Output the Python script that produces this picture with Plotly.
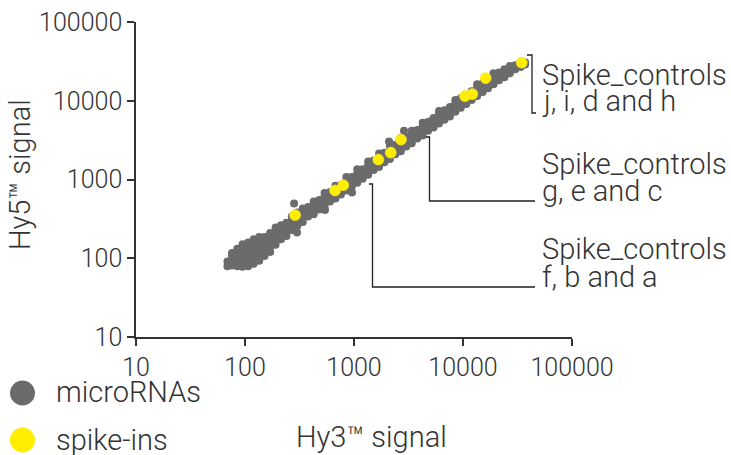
import plotly.graph_objects as go

# ---- data ----
micro_x = [
    69, 69,
    76, 76, 76, 76,
    85, 85, 85, 85, 85,
    95, 95, 95, 95, 95, 95,
    107, 107, 107, 107, 107, 107,
    120, 120, 120, 120, 120, 120,
    135, 135, 135, 135, 135, 135,
    151, 151, 151, 151, 151,
    170, 170, 170, 170, 170,
    191, 191, 191, 191, 191,
    214, 214, 214, 214,
    240, 240, 240, 240,
    269, 269, 269, 269,
    302, 302, 302, 302,
    339, 339, 339, 339,
    380, 380, 380,
    427, 427, 427, 427,
    479, 479, 479,
    537, 537, 537, 537,
    603, 603, 603,
    676, 676, 676, 676,
    759, 759, 759,
    851, 851, 851, 851,
    955, 955, 955,
    1072, 1072, 1072, 1072,
    1202, 1202, 1202,
    1349, 1349, 1349, 1349,
    1514, 1514, 1514,
    1698, 1698, 1698, 1698,
    1905, 1905, 1905,
    2138, 2138, 2138, 2138,
    2399, 2399, 2399,
    2692, 2692, 2692, 2692,
    3020, 3020, 3020,
    3388, 3388, 3388, 3388,
    3802, 3802, 3802,
    4266, 4266, 4266, 4266,
    4786, 4786, 4786,
    5370, 5370, 5370,
    6026, 6026, 6026, 6026,
    6761, 6761, 6761,
    7586, 7586, 7586,
    8511, 8511, 8511, 8511,
    9550, 9550, 9550,
    10720, 10720, 10720,
    12020, 12020, 12020,
    13490, 13490, 13490, 13490,
    15140, 15140, 15140,
    16980, 16980, 16980,
    19050, 19050, 19050, 19050,
    21380, 21380, 21380,
    23990, 23990, 23990,
    26920, 26920, 26920,
    30200, 30200,
    33880, 33880,
    37150, 37150,
    282, 300, 542, 959, 2094, 2875, 4980,
]
micro_y = [
    79, 91,
    81, 93, 107, 117,
    79, 91, 105, 120, 132,
    78, 89, 102, 117, 135, 151,
    79, 91, 105, 120, 138, 158,
    85, 98, 112, 129, 148, 174,
    93, 107, 123, 141, 162, 186,
    107, 123, 141, 162, 186,
    120, 138, 158, 182, 209,
    148, 170, 195, 224, 245,
    174, 200, 229, 263,
    191, 214, 245, 282,
    229, 263, 302, 339,
    257, 295, 339, 380,
    288, 331, 380, 427,
    339, 389, 447,
    363, 417, 479, 525,
    417, 479, 550,
    457, 525, 603, 676,
    525, 603, 692,
    575, 661, 759, 832,
    646, 741, 851,
    724, 832, 955, 1072,
    813, 933, 1072,
    912, 1047, 1202, 1349,
    1023, 1175, 1349,
    1148, 1318, 1514, 1698,
    1318, 1514, 1738,
    1445, 1660, 1905, 2138,
    1660, 1905, 2188,
    1820, 2089, 2399, 2692,
    2089, 2399, 2754,
    2291, 2630, 3020, 3388,
    2630, 3020, 3467,
    2884, 3311, 3802, 4169,
    3311, 3802, 4266,
    3631, 4169, 4786, 5248,
    4169, 4786, 5370,
    4571, 5248, 6026,
    5129, 5888, 6761, 7413,
    5754, 6607, 7586,
    6310, 7244, 8318,
    7244, 8318, 9333, 10230,
    8128, 9333, 10720,
    9120, 10470, 11750,
    10230, 11750, 13180,
    11480, 13180, 14790, 16220,
    12880, 14790, 16600,
    14450, 16220, 18620,
    16220, 18620, 20890, 22390,
    18200, 20420, 22910,
    19950, 22390, 25120,
    22390, 25120, 27540,
    25120, 28180,
    26920, 29510,
    28840, 30900,
    497, 213, 411, 684, 3030, 4171, 5470,
]
spike_x = [288, 670, 798, 1671, 2172, 2699, 10430, 12170, 16150, 34570]
spike_y = [353, 726, 847, 1791, 2198, 3209, 11460, 12160, 19370, 30540]

tick_vals = [10, 100, 1000, 10000, 100000]
tick_text = ["10", "100", "1000", "10000", "100000"]

legend_names = ["microRNAs", "spike-ins"]
x_title = "Hy3™ signal"
y_title = "Hy5™ signal"
group_labels = [
    ("Spike_controls", "j, i, d and h"),
    ("Spike_controls", "g, e and c"),
    ("Spike_controls", "f, b and a"),
]

GRAY = "#6b6b6b"
YELLOW = "#ffee00"
TXT = "#333333"
FONT = "Roboto"
TSIZE = 29

W, H = 731, 455
L, R, T, B = 136, 159, 22, 118
PW, PH = W - L - R, H - T - B


def px(p):
    return (p - L) / PW


def py(p):
    return (H - B - p) / PH


fig = go.Figure()
fig.add_trace(go.Scatter(
    x=micro_x, y=micro_y, mode="markers", name=legend_names[0],
    marker=dict(size=8, color=GRAY, line=dict(width=0)), showlegend=False,
))
fig.add_trace(go.Scatter(
    x=spike_x, y=spike_y, mode="markers", name=legend_names[1],
    marker=dict(size=11, color=YELLOW, line=dict(width=0.6, color="#f5e640")),
    showlegend=False,
))

axis_common = dict(
    type="log", range=[1, 5], tickvals=tick_vals, ticktext=tick_text,
    showgrid=False, zeroline=False, showline=True, linecolor=TXT, linewidth=1.5,
    ticks="outside", ticklen=7, tickwidth=1.5, tickcolor=TXT, automargin=False,
    tickfont=dict(family=FONT, size=25, color=TXT, weight=300),
)
fig.update_xaxes(**axis_common)
fig.update_yaxes(**axis_common)

shapes = []
for yc, col in [(393, GRAY), (440, YELLOW)]:
    shapes.append(dict(
        type="circle", xref="paper", yref="paper",
        xsizemode="pixel", ysizemode="pixel",
        xanchor=px(22.5), yanchor=py(yc),
        x0=-12.5, x1=12.5, y0=-12.5, y1=12.5,
        fillcolor=col, line=dict(width=0),
    ))

line_style = dict(color="#222222", width=1.3)


def path(pts):
    s = "M " + " L ".join(f"{px(a)},{py(b)}" for a, b in pts)
    return dict(type="path", xref="paper", yref="paper", path=s, line=line_style)


shapes.append(path([(527, 55), (532, 55), (532, 113), (536, 113)]))
shapes.append(path([(426, 137), (429.5, 137), (429.5, 201), (535, 201)]))
shapes.append(path([(369, 184), (372.5, 184), (372.5, 287), (535, 287)]))

annotations = []
label_rows = [(75, 101), (164, 191), (249, 277)]
for (l1, l2), (y1, y2) in zip(group_labels, label_rows):
    for txt, yy in [(l1, y1), (l2, y2)]:
        annotations.append(dict(
            text=txt, xref="paper", yref="paper", x=px(540), y=py(yy),
            xanchor="left", yanchor="middle", showarrow=False,
            font=dict(family=FONT, size=TSIZE, color=TXT, weight=300),
        ))
for name, yy in zip(legend_names, [392, 440]):
    annotations.append(dict(
        text=name, xref="paper", yref="paper", x=px(54), y=py(yy),
        xanchor="left", yanchor="middle", showarrow=False,
        font=dict(family=FONT, size=TSIZE, color=TXT, weight=300),
    ))
annotations.append(dict(
    text=x_title, xref="paper", yref="paper", x=px(371), y=py(437),
    xanchor="center", yanchor="middle", showarrow=False,
    font=dict(family=FONT, size=TSIZE, color=TXT, weight=300),
))
annotations.append(dict(
    text=y_title, xref="paper", yref="paper", x=px(20), y=py(175),
    xanchor="center", yanchor="middle", showarrow=False, textangle=-90,
    font=dict(family=FONT, size=TSIZE, color=TXT, weight=300),
))

fig.update_layout(
    width=W, height=H, margin=dict(l=L, r=R, t=T, b=B),
    paper_bgcolor="white", plot_bgcolor="white",
    shapes=shapes, annotations=annotations, showlegend=False,
)

fig.write_html(
    "out.html",
    config={"displayModeBar": False},
    post_script="document.body.style.margin='0px';",
)
